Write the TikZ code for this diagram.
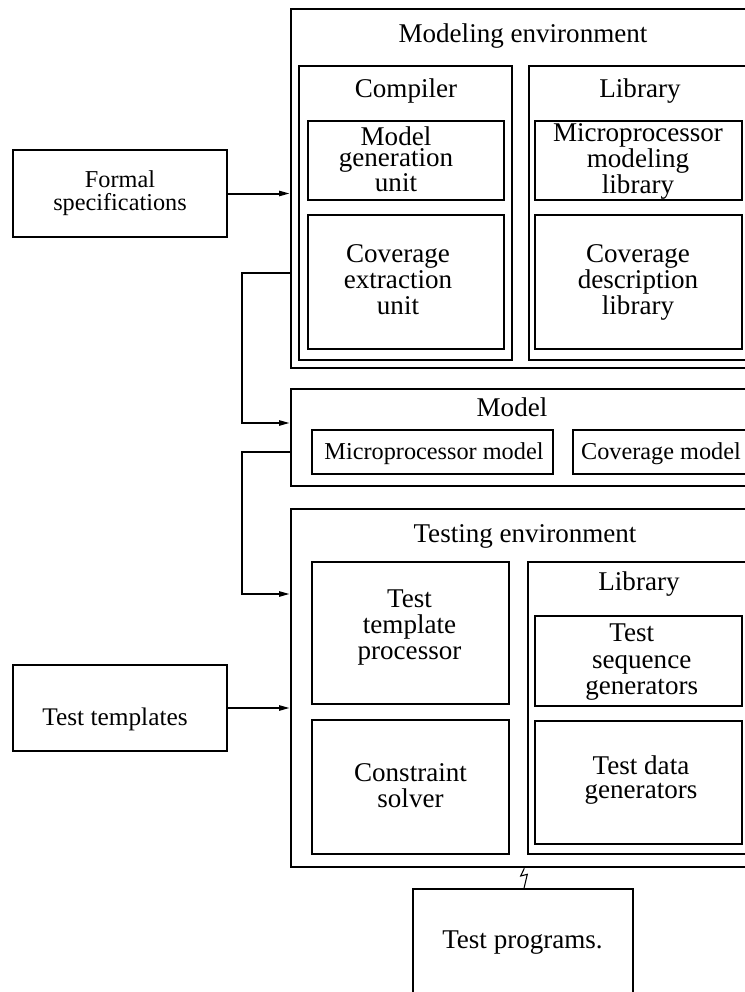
\documentclass[tikz,border=0pt]{standalone}
\usepackage{fontspec}
\setmainfont{Liberation Serif}
\usetikzlibrary{fit,arrows.meta}
\begin{document}
\begin{tikzpicture}[x=0.75pt,y=-0.75pt,
  box/.style={draw, line width=1.7pt, inner sep=0pt},
  lbl/.style={inner sep=0pt, align=center, font=\fontsize{20.3}{#1}\selectfont},
  lbl/.default=19.5,
  slbl/.style={inner sep=0pt, align=center, font=\fontsize{18.2}{#1}\selectfont},
  slbl/.default=17.3,
  tlbl/.style={inner sep=0pt, align=center, font=\fontsize{19}{19}\selectfont},
  conn/.style={line width=1.5pt},
  arr/.style={-{Triangle[length=8pt,width=3.8pt]}}
]
\useasboundingbox (0,0) rectangle (745,992);
\clip (0,0) rectangle (745,992);

% boxes
\node[box, fit={(291,9) (760,368)}] (ME) {};
\node[box, fit={(299,66) (512,360)}] (COMP) {};
\node[box, fit={(308,121) (504,200)}] (MGU) {};
\node[box, fit={(308,215) (504,349)}] (CEU) {};
\node[box, fit={(529,66) (752,360)}] (LIBA) {};
\node[box, fit={(535,121) (742,200)}] (MML) {};
\node[box, fit={(535,215) (742,349)}] (CDL) {};
\node[box, fit={(13,150) (227,237)}] (FS) {};
\node[box, fit={(291,389) (760,486)}] (MODEL) {};
\node[box, fit={(312,430) (553,474)}] (MPM) {};
\node[box, fit={(573,430) (752,474)}] (COVM) {};
\node[box, fit={(291,509) (760,867)}] (TE) {};
\node[box, fit={(312,562) (509,704)}] (TTP) {};
\node[box, fit={(312,720) (509,854)}] (CS) {};
\node[box, fit={(528,562) (752,854)}] (LIBB) {};
\node[box, fit={(535,616) (742,706)}] (TSG) {};
\node[box, fit={(535,721) (742,844)}] (TDG) {};
\node[box, fit={(13,665) (227,751)}] (TT) {};
\node[box, fit={(413,889) (633,1010)}] (TP) {};

% texts
\node[lbl, anchor=base] (tme) at (523,42) {Modeling environment};
\node[lbl, anchor=base] (tcomp) at (406,97) {Compiler};
\node[lbl, anchor=base] (tliba) at (640,97) {Library};
\node[lbl=16] (tmgu) at (396,159) {Model\\generation\\unit};
\node[lbl=16] (tmml) at (638,161.5) {Microprocessor\\modeling\\library};
\node[lbl=19.5] (tceu) at (398,279.8) {Coverage\\extraction\\unit};
\node[lbl=19.5] (tcdl) at (638,282.8) {Coverage\\description\\library};
\node[slbl=17.3] (tfs) at (120,192.8) {Formal\\specifications};
\node[lbl, anchor=base] (tmodel) at (512,416) {Model};
\node[slbl, anchor=base] (tmpm) at (434,459) {Microprocessor model};
\node[slbl, anchor=base] (tcovm) at (661,459) {Coverage model};
\node[lbl, anchor=base] (tte) at (525,542) {Testing environment};
\node[lbl=19.5] (tttp) at (409.5,627.8) {Test\\template\\processor};
\node[lbl, anchor=base] (tlibb) at (639,590) {Library};
\node[lbl=19.9] (ttsg) at (641.7,662.3) {Test\hspace*{15pt}\\sequence\\generators};
\node[lbl=19.5] (tcs) at (410.5,785.8) {Constraint\\solver};
\node[lbl=18] (ttdg) at (641,780.3) {Test data\\generators};
\node[tlbl, anchor=base] (ttt) at (115,725) {Test templates};
\node[lbl, anchor=base] (ttp) at (522.5,948) {Test programs.};

% connectors
\draw[conn, arr] (FS.east) -- (FS.east -| ME.west);
\coordinate (j1) at (242,273);
\coordinate (j2) at (242,423);
\draw[conn, arr] (j1 -| ME.west) -- (j1) -- (j2) -- (j2 -| MODEL.west);
\coordinate (j3) at (242,452);
\coordinate (j4) at (242,594);
\draw[conn, arr] (j3 -| MODEL.west) -- (j3) -- (j4) -- (j4 -| TE.west);
\draw[conn, arr] (TT.east) -- (TT.east -| TE.west);

% lightning mark between testing environment and test programs
\draw[line width=0.8pt] (524.3,868.3) -- (520.7,876) -- (527.3,874.3) -- (524,888.3);
\end{tikzpicture}
\end{document}
